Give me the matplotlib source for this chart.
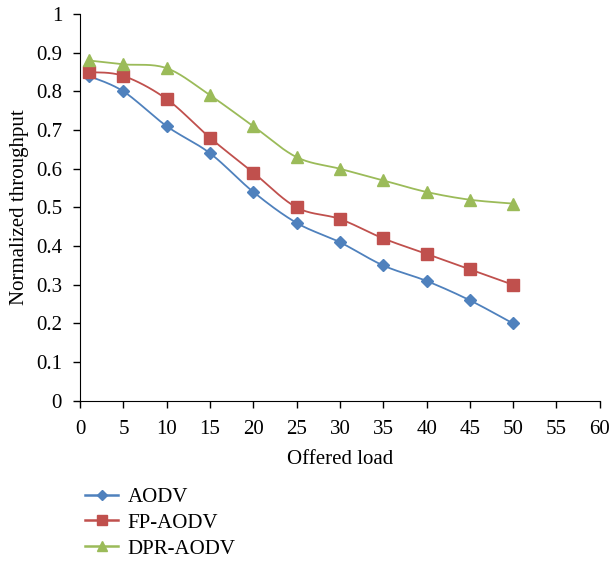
import numpy as np
import matplotlib.pyplot as plt

plt.rcParams['font.family'] = ['Liberation Serif', 'DejaVu Serif']

load = [1, 5, 10, 15, 20, 25, 30, 35, 40, 45, 50]
aodv = [0.84, 0.80, 0.71, 0.64, 0.54, 0.46, 0.41, 0.35, 0.31, 0.26, 0.20]
fp_aodv = [0.85, 0.84, 0.78, 0.68, 0.59, 0.50, 0.47, 0.42, 0.38, 0.34, 0.30]
dpr_aodv = [0.88, 0.87, 0.86, 0.79, 0.71, 0.63, 0.60, 0.57, 0.54, 0.52, 0.51]

series = [
    ('AODV', aodv, '#4F81BD', 'D', 6.5),
    ('FP-AODV', fp_aodv, '#C0504D', 's', 8),
    ('DPR-AODV', dpr_aodv, '#9BBB59', '^', 8.5),
]


def smooth(x, y, n=20):
    # spreadsheet-style smoothed line: cubic Bezier through points
    x = np.asarray(x, float)
    y = np.asarray(y, float)
    px = np.concatenate([[x[0]], x, [x[-1]]])
    py = np.concatenate([[y[0]], y, [y[-1]]])
    xs, ys = [], []
    t = np.linspace(0, 1, n)
    for i in range(1, len(px) - 2):
        p0 = np.array([px[i], py[i]])
        p3 = np.array([px[i + 1], py[i + 1]])
        p1 = p0 + (np.array([px[i + 1], py[i + 1]]) - np.array([px[i - 1], py[i - 1]])) / 6
        p2 = p3 - (np.array([px[i + 2], py[i + 2]]) - np.array([px[i], py[i]])) / 6
        b = ((1 - t) ** 3)[:, None] * p0 + (3 * (1 - t) ** 2 * t)[:, None] * p1 \
            + (3 * (1 - t) * t ** 2)[:, None] * p2 + (t ** 3)[:, None] * p3
        xs.extend(b[:, 0])
        ys.extend(b[:, 1])
    return xs, ys


fig = plt.figure(figsize=(6.12, 5.63), dpi=100)
ax = fig.add_axes([0.131, 0.288, 0.849, 0.687])

handles = []
for name, vals, color, marker, ms in series:
    sx, sy = smooth(load, vals)
    ax.plot(sx, sy, color=color, lw=1.3)
    ax.plot(load, vals, linestyle='none', marker=marker, color=color, ms=ms)
    h, = ax.plot([], [], color=color, lw=1.8, marker=marker, ms=ms - 1, label=name)
    handles.append(h)

ax.set_xlim(0, 60)
ax.set_ylim(0, 1)
ax.set_xticks(np.arange(0, 61, 5))
ax.set_yticks(np.arange(0, 1.01, 0.1))
ax.set_yticklabels(['0'] + ['%.1f' % v for v in np.arange(0.1, 0.95, 0.1)] + ['1'])
ax.spines['top'].set_visible(False)
ax.spines['right'].set_visible(False)
ax.tick_params(direction='out', length=5, labelsize=15, width=1)
ax.tick_params(axis='x', pad=9)
ax.tick_params(axis='y', pad=8)
ax.set_xlabel('Offered load', fontsize=15, labelpad=8)
ax.set_ylabel('Normalized throughput', fontsize=15, labelpad=5)

fig.legend(handles=handles, loc='upper left', bbox_to_anchor=(0.122, 0.153),
           frameon=False, fontsize=15, handlelength=1.6, handletextpad=0.45,
           labelspacing=0.3, borderpad=0)

fig.savefig('out.png', dpi=100)
